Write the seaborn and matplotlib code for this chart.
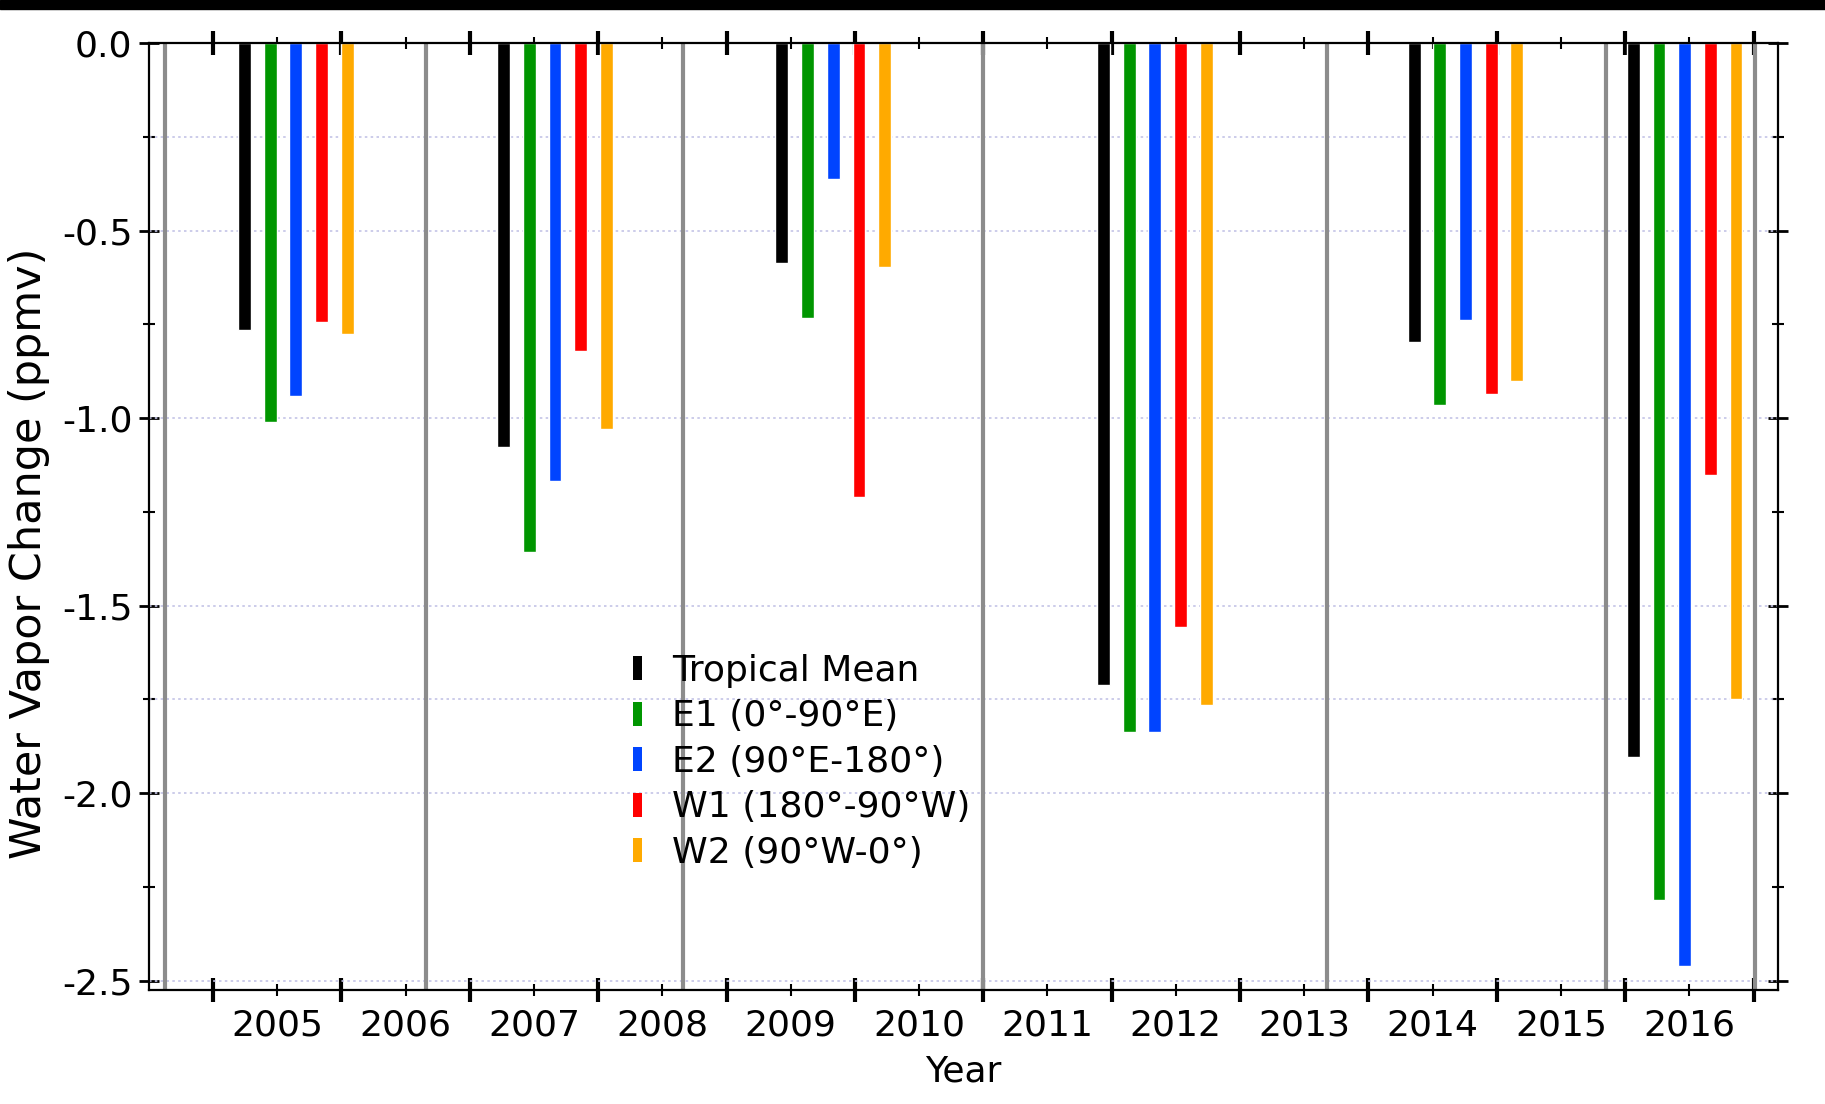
import numpy as np
import pandas as pd
import matplotlib
matplotlib.use("Agg")
import matplotlib.pyplot as plt
from matplotlib.patches import Patch, Rectangle
import seaborn as sns

# --- data ---
regions = ["Tropical Mean", "E1 (0°-90°E)", "E2 (90°E-180°)", "W1 (180°-90°W)", "W2 (90°W-0°)"]
event_time = [2005.644, 2007.664, 2009.831, 2012.336, 2014.756, 2016.464]  # time of each group of bars
tropical_mean = [-0.765, -1.077, -0.587, -1.712, -0.798, -1.903]
e1 = [-1.010, -1.358, -0.734, -1.836, -0.966, -2.284]
e2 = [-0.941, -1.167, -0.363, -1.836, -0.738, -2.460]
w1 = [-0.743, -0.821, -1.211, -1.557, -0.936, -1.153]
w2 = [-0.776, -1.030, -0.598, -1.764, -0.902, -1.750]
grey_times = [2004.628, 2006.659, 2008.662, 2011.001, 2013.675, 2015.851, 2017.011]
year_labels = [str(y) for y in range(2005, 2017)]
grid_levels = [-0.25, -0.5, -1.0, -1.5, -1.75, -2.0, -2.5]

colors = ["#000000", "#009600", "#0044ff", "#ff0000", "#ffaa00"]

series = [tropical_mean, e1, e2, w1, w2]
df = pd.DataFrame({
    "time": np.tile(event_time, len(regions)),
    "region": np.repeat(regions, len(event_time)),
    "change": np.concatenate(series),
})

sns.set_style("white")
plt.rcParams["font.family"] = ["DejaVu Sans"]
plt.rcParams.update({"text.color": "black", "axes.labelcolor": "black",
                     "xtick.color": "black", "ytick.color": "black"})

fig = plt.figure(figsize=(18.25, 11.04), dpi=100)
ax = fig.add_axes([0.0816, 0.1033, 0.8926, 0.8577])

# each group spans one year, five bars, bars half as wide as their slot
group_width = 1.0 / np.diff(event_time).min()
sns.barplot(data=df, x="time", y="change", hue="region", hue_order=regions,
            palette=dict(zip(regions, colors)), native_scale=True, dodge=True,
            width=group_width, gap=0.5, errorbar=None, legend=False,
            saturation=1, ax=ax, zorder=3)

for t in grey_times:
    ax.axvline(t, color="#8c8c8c", lw=3, zorder=2)
for lev in grid_levels:
    ax.axhline(lev, color="#c4c4e6", lw=1.2, ls=(0, (1.5, 2)), zorder=1)

ax.set_xlim(2004.5, 2017.19)
ax.set_ylim(-2.525, 0)

ax.set_xticks(np.arange(2005, 2018))
ax.set_xticks(np.arange(2005.5, 2017), minor=True)
ax.set_xticklabels([], minor=False)
ax.set_xticklabels(year_labels, minor=True, fontsize=26)
ax.set_yticks(np.arange(0, -2.51, -0.5))
ax.set_yticks(np.arange(-0.25, -2.51, -0.5), minor=True)
ax.set_yticklabels([f"{v:.1f}" for v in np.arange(0, -2.51, -0.5)], fontsize=26)

ax.tick_params(axis="x", which="major", direction="inout", length=17, width=3,
               top=True, bottom=True)
ax.tick_params(axis="x", which="minor", direction="inout", length=9, width=1.5,
               top=True, bottom=True, pad=9)
ax.tick_params(axis="y", which="major", direction="inout", length=14, width=2,
               left=True, right=True, pad=5)
ax.tick_params(axis="y", which="minor", direction="inout", length=9, width=1.5,
               left=True, right=True)

for s in ax.spines.values():
    s.set_color("black")
    s.set_linewidth(1.6)
    s.set_zorder(4)

ax.set_xlabel("Year", fontsize=26)
ax.set_ylabel("Water Vapor Change (ppmv)", fontsize=31)
ax.yaxis.set_label_coords(-0.061, 0.461)
ax.xaxis.set_label_coords(0.5, -0.068)

handles = [Patch(facecolor=c, edgecolor="none") for c in colors]
ax.legend(handles, regions, loc="upper left", bbox_to_anchor=(0.297, 0.355),
          frameon=False, fontsize=26, handlelength=0.25, handleheight=0.65,
          handletextpad=0.85, labelspacing=0.32, borderpad=0, borderaxespad=0)

# dark strip along the top edge of the reference image
fig.add_artist(Rectangle((0, 1 - 9 / 1104), 1, 9 / 1104, transform=fig.transFigure,
                         color="black", zorder=10))

fig.savefig("out.png", dpi=100)
